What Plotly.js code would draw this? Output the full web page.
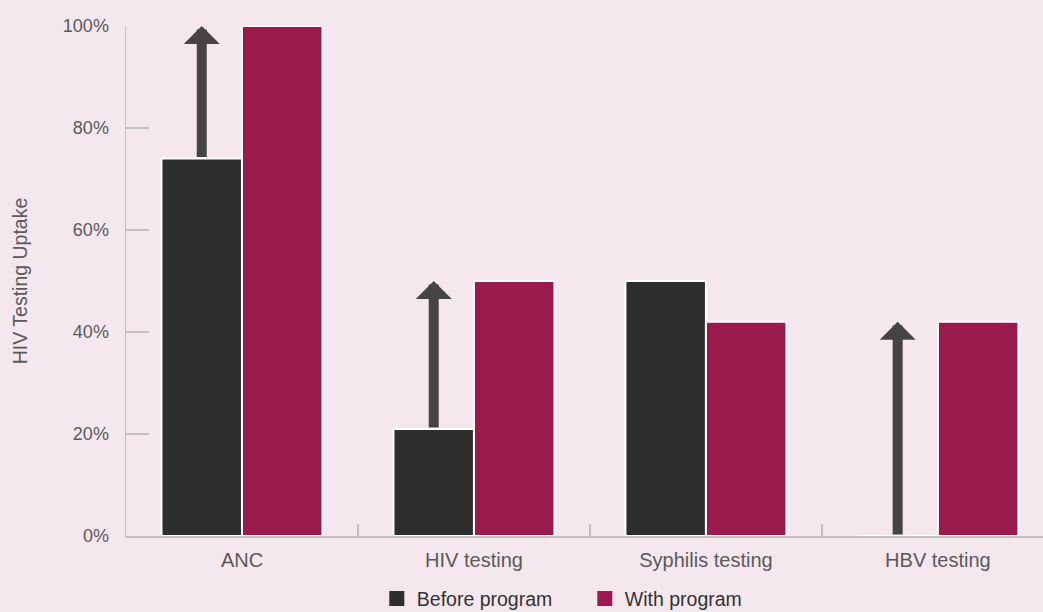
<!DOCTYPE html>
<html>
<head>
<meta charset="utf-8">
<script src="https://cdn.plot.ly/plotly-3.0.1.min.js"></script>
<style>html,body{margin:0;padding:0;background:#f5e7ee;}#chart{width:1043px;height:612px;}</style>
</head>
<body>
<div id="chart"></div>
<script>
const categories = ["ANC", "HIV testing", "Syphilis testing", "HBV testing"];
const beforeProgram = [74, 21, 50, 0];
const withProgram = [100, 50, 42, 42];
const showArrow = [true, true, false, true];
const yTickVals = [0, 20, 40, 60, 80, 100];
const yTickText = ["0%", "20%", "40%", "60%", "80%", "100%"];
const seriesNames = ["Before program", "With program"];

const bargap = 0.306;
const beforeOffset = -(1 - bargap) / 4;
const beforeColor = "#2e2e2e";
const withColor = "#9a1a4c";
const arrowColor = "#444446";
const axisColor = "#c3c0c2";
const textColor = "#5a5a5a";
const fontFam = "Liberation Sans, Arial, sans-serif";

const traces = [
  {
    type: "bar", name: seriesNames[0], x: categories, y: beforeProgram, showlegend: false,
    marker: {color: beforeColor, line: {color: "#ffffff", width: 2}}
  },
  {
    type: "bar", name: seriesNames[1], x: categories, y: withProgram, showlegend: false,
    marker: {color: withColor, line: {color: "#ffffff", width: 2}}
  },
  {
    type: "scatter", mode: "markers", name: seriesNames[0], x: [categories[0]], y: [null],
    marker: {symbol: "square", size: 15, color: beforeColor}, showlegend: true
  },
  {
    type: "scatter", mode: "markers", name: seriesNames[1], x: [categories[0]], y: [null],
    marker: {symbol: "square", size: 15, color: withColor}, showlegend: true
  }
];

const annotations = [];
categories.forEach((c, i) => {
  if (!showArrow[i]) return;
  annotations.push({
    x: i + beforeOffset, y: withProgram[i], xref: "x", yref: "y",
    ax: i + beforeOffset, ay: beforeProgram[i], axref: "x", ayref: "y",
    text: "", showarrow: true, arrowhead: 1, arrowwidth: 10, arrowsize: 0.6,
    arrowcolor: arrowColor, standoff: 0, startstandoff: 0
  });
});

const layout = {
  width: 1043, height: 612,
  paper_bgcolor: "#f5e7ee", plot_bgcolor: "#f5e7ee",
  margin: {l: 126, r: 0, t: 26, b: 76, autoexpand: false},
  barmode: "group", bargap: bargap, bargroupgap: 0,
  font: {family: fontFam, size: 18, color: textColor},
  xaxis: {
    type: "category", range: [-0.5, 3.453],
    showline: true, linecolor: axisColor, linewidth: 1.5,
    ticks: "inside", tickson: "boundaries", ticklen: 12, tickcolor: axisColor, tickwidth: 1.5,
    showgrid: false, zeroline: false, ticklabelstandoff: 5,
    tickfont: {family: fontFam, size: 20, color: textColor}
  },
  yaxis: {
    range: [0, 100], tickvals: yTickVals, ticktext: yTickText,
    showline: true, linecolor: axisColor, linewidth: 1.5,
    ticks: "inside", ticklen: 23, tickcolor: axisColor, tickwidth: 1.5,
    showgrid: false, zeroline: false, ticklabelstandoff: 12,
    tickfont: {family: fontFam, size: 18, color: textColor},
    title: {text: "HIV Testing Uptake", font: {family: fontFam, size: 19.5, color: textColor}, standoff: 30}
  },
  legend: {
    orientation: "h", x: 0.2735, xanchor: "left", y: -0.085, yanchor: "top",
    font: {family: fontFam, size: 19.5, color: "#333333"},
    entrywidth: 163, itemwidth: 30, bgcolor: "rgba(0,0,0,0)"
  },
  annotations: annotations,
  showlegend: true
};

Plotly.newPlot("chart", traces, layout, {displayModeBar: false, staticPlot: true});
</script>
</body>
</html>
